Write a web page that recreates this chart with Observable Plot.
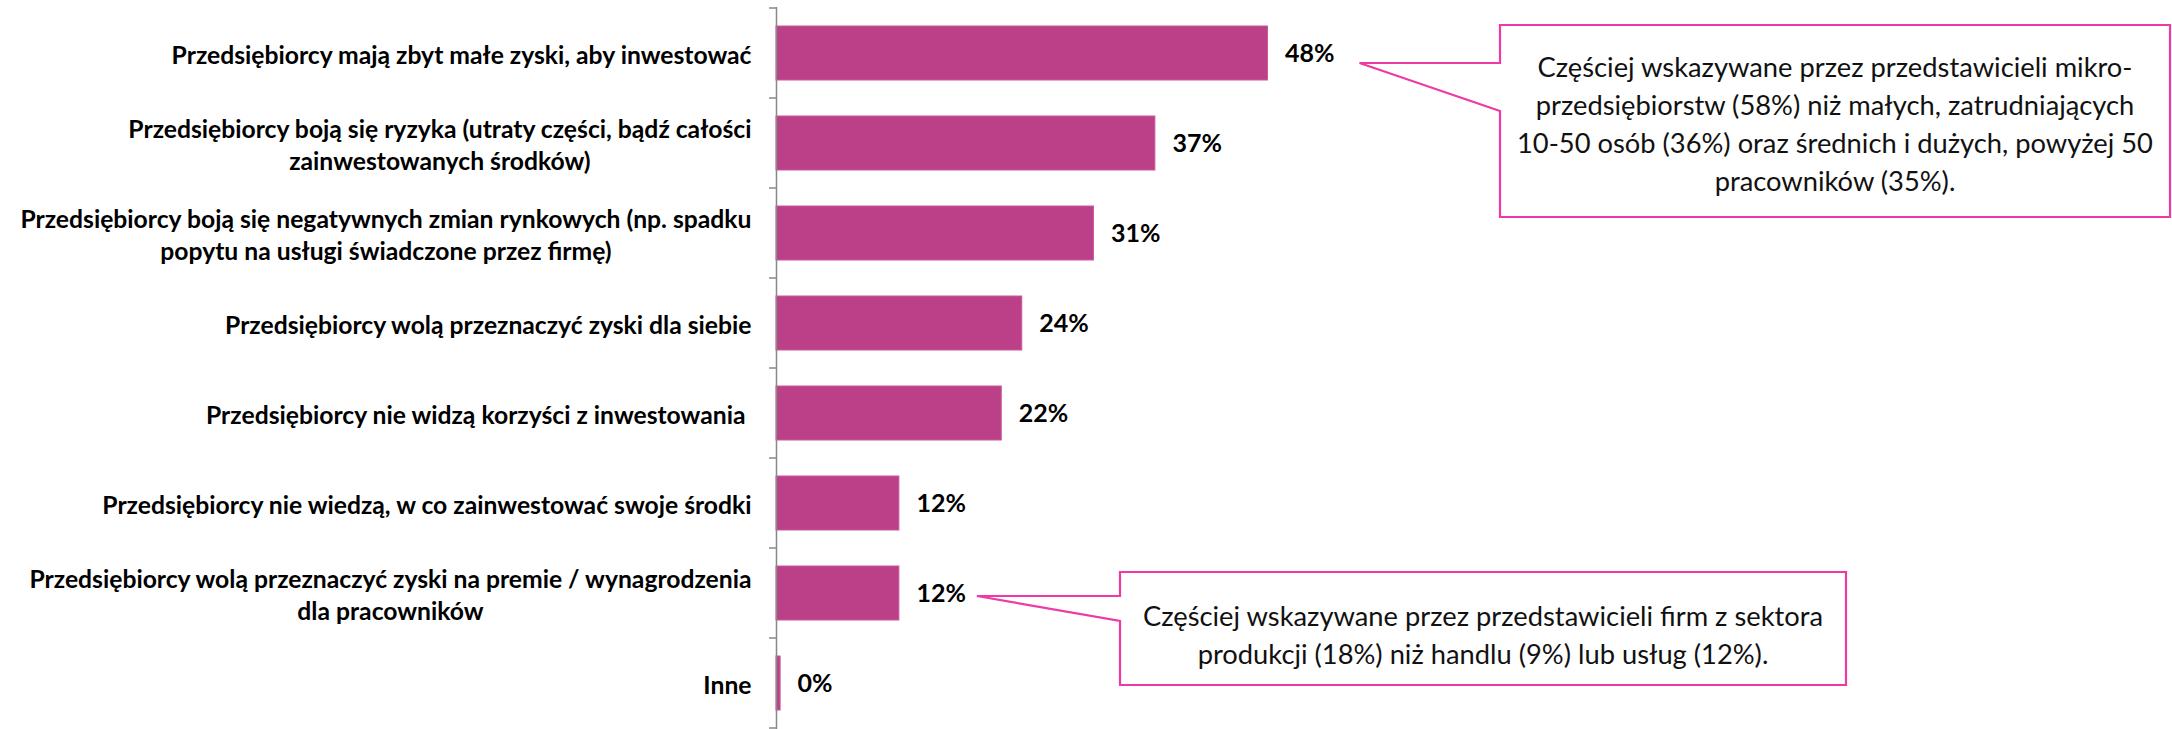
<!DOCTYPE html>
<html><head><meta charset="utf-8">
<script src="https://cdn.jsdelivr.net/npm/d3@7"></script>
<script src="https://cdn.jsdelivr.net/npm/@observablehq/plot@0.6"></script>
<style>
html,body{margin:0;padding:0;background:#fff;}
#chart svg{display:block;}
</style></head><body><div id="chart"></div>
<script>
// ---- data ----
const categories = [
  "Przedsiębiorcy mają zbyt małe zyski, aby inwestować",
  "Przedsiębiorcy boją się ryzyka (utraty części, bądź całości\nzainwestowanych środków)",
  "Przedsiębiorcy boją się negatywnych zmian rynkowych (np. spadku\npopytu na usługi świadczone przez firmę)",
  "Przedsiębiorcy wolą przeznaczyć zyski dla siebie",
  "Przedsiębiorcy nie widzą korzyści z inwestowania\u00a0",
  "Przedsiębiorcy nie wiedzą, w co zainwestować swoje środki",
  "Przedsiębiorcy wolą przeznaczyć zyski na premie / wynagrodzenia\ndla pracowników",
  "Inne"
];
const values = [48, 37, 31, 24, 22, 12, 12, 0.4];
const valueLabels = ["48%", "37%", "31%", "24%", "22%", "12%", "12%", "0%"];
const note1Target = 0;
const note1Lines = [
  "Częściej wskazywane przez przedstawicieli mikro-",
  "przedsiębiorstw (58%) niż małych, zatrudniających",
  "10-50 osób (36%) oraz średnich i dużych, powyżej 50",
  "pracowników (35%)."
];
const note2Target = 6;
const note2Lines = [
  "Częściej wskazywane przez przedstawicieli firm z sektora",
  "produkcji (18%) niż handlu (9%) lub usług (12%)."
];

// ---- layout / style ----
const W = 2172, H = 729;
const ML = 776, MR = 372, MT = 7, MB = 0;
const BAR = "#BB4087", PINK = "#EE3AA6", AXIS = "#888888";
const FONT = "Lato, 'Open Sans', sans-serif";
const LABEL_SIZE = 24.7, NOTE_SIZE = 27.3, NOTE_LH = 38;

const data = categories.map((c, i) => ({category: c, value: values[i], label: valueLabels[i]}));

const plot = Plot.plot({
  width: W, height: H,
  marginLeft: ML, marginRight: MR, marginTop: MT, marginBottom: MB,
  style: {fontFamily: FONT, background: "#fff", color: "#000", overflow: "visible"},
  x: {domain: [0, 100], axis: null},
  y: {domain: categories, paddingInner: 0.4, paddingOuter: 0.2, align: 0.5},
  marks: [
    Plot.barX(data, {x: "value", y: "category", fill: BAR, stroke: "#C95A9A", strokeWidth: 1}),
    Plot.text(data, {x: "value", y: "category", text: "label", textAnchor: "start", dx: 17,
      fontSize: 25, fontWeight: "bold", fill: "#000"}),
    Plot.axisY({tickSize: 0, tickPadding: 25, fontSize: LABEL_SIZE, fontWeight: "bold",
      lineHeight: 1.3, fill: "#000", label: null}),
    Plot.ruleX([0], {stroke: AXIS, strokeWidth: 1.5})
  ]
});
document.getElementById("chart").appendChild(plot);

const xs = plot.scale("x"), ys = plot.scale("y");
const svg = d3.select(plot);
const bw = ys.bandwidth, step = ys.step;
const x0 = xs.apply(0);

// category boundary ticks
const bounds = categories.map(c => ys.apply(c) - (step - bw) / 2);
bounds.push(bounds[bounds.length - 1] + step);
svg.append("g").selectAll("line").data(bounds).join("line")
  .attr("x1", x0 - 7).attr("x2", x0).attr("y1", d => d).attr("y2", d => d)
  .attr("stroke", AXIS).attr("stroke-width", 1.5);

// center multi-line labels within their block (Excel style)
svg.selectAll('g[aria-label="y-axis tick label"] text').each(function () {
  const tspans = this.querySelectorAll("tspan");
  if (tspans.length < 2) return;
  let maxW = 0;
  tspans.forEach(t => { maxW = Math.max(maxW, t.getComputedTextLength()); });
  const ax = this.hasAttribute("x") ? +this.getAttribute("x") : 0;
  this.setAttribute("text-anchor", "middle");
  tspans.forEach(t => t.setAttribute("x", ax - maxW / 2));
});

// callouts
const callouts = [
  {target: note1Target, lines: note1Lines, box: [1500, 25, 2170, 217], tipDx: 92, tipDy: 10, wedge: 48, textDy: 6},
  {target: note2Target, lines: note2Lines, box: [1120, 572, 1846, 685], tipDx: 78, tipDy: 3, wedge: 25, textDy: 10}
];
callouts.forEach(co => {
  const [bx0, by0, bx1, by1] = co.box;
  const tx = xs.apply(values[co.target]) + co.tipDx;
  const ty = ys.apply(categories[co.target]) + bw / 2 + co.tipDy;
  const g = svg.append("g");
  g.append("path")
    .attr("d", `M${bx0},${by0}H${bx1}V${by1}H${bx0}V${ty + co.wedge}L${tx},${ty}L${bx0},${ty}Z`)
    .attr("fill", "#fff").attr("stroke", PINK).attr("stroke-width", 2.2).attr("stroke-linejoin", "miter");
  const cx = (bx0 + bx1) / 2, cy = (by0 + by1) / 2 + co.textDy;
  const n = co.lines.length;
  g.append("text")
    .attr("text-anchor", "middle").attr("font-family", FONT).attr("font-size", NOTE_SIZE).attr("fill", "#111")
    .selectAll("tspan").data(co.lines).join("tspan")
    .attr("x", cx).attr("y", (d, i) => cy + (i - (n - 1) / 2) * NOTE_LH)
    .attr("dominant-baseline", "middle")
    .text(d => d);
});
</script>
</body></html>
